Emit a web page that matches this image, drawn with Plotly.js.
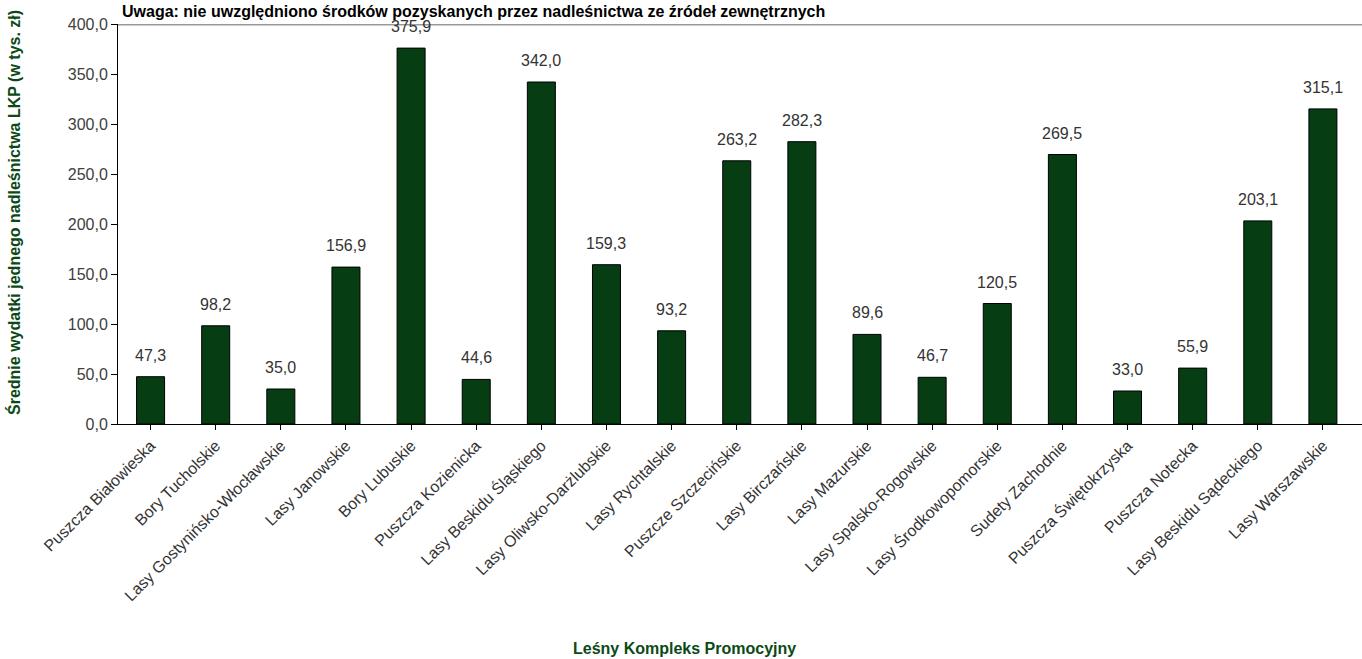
<!DOCTYPE html>
<html>
<head>
<meta charset="utf-8">
<script src="https://cdn.plot.ly/plotly-3.0.1.min.js"></script>
<style>html,body{margin:0;padding:0;background:#fff;}#chart{width:1362px;height:659px;}</style>
</head>
<body>
<div id="chart"></div>
<script>
const categories = [
  "Puszcza Białowieska", "Bory Tucholskie", "Lasy Gostynińsko-Włocławskie", "Lasy Janowskie",
  "Bory Lubuskie", "Puszcza Kozienicka", "Lasy Beskidu Śląskiego", "Lasy Oliwsko-Darżlubskie",
  "Lasy Rychtalskie", "Puszcze Szczecińskie", "Lasy Birczańskie", "Lasy Mazurskie",
  "Lasy Spalsko-Rogowskie", "Lasy Środkowopomorskie", "Sudety Zachodnie", "Puszcza Świętokrzyska",
  "Puszcza Notecka", "Lasy Beskidu Sądeckiego", "Lasy Warszawskie"
];
const values = [47.3, 98.2, 35.0, 156.9, 375.9, 44.6, 342.0, 159.3, 93.2, 263.2, 282.3, 89.6, 46.7, 120.5, 269.5, 33.0, 55.9, 203.1, 315.1];
const yTicks = [0, 50, 100, 150, 200, 250, 300, 350, 400];
const titleText = "Uwaga: nie uwzględniono środków pozyskanych przez nadleśnictwa ze źródeł zewnętrznych";
const yTitle = "Średnie wydatki jednego nadleśnictwa LKP (w tys. zł)";
const xTitle = "Leśny Kompleks Promocyjny";

const fmt = v => v.toFixed(1).replace('.', ',');
const green = '#0b4a17';
const FONT = 'Liberation Sans, Arial, sans-serif';

const trace = {
  type: 'bar',
  x: categories.map((c, i) => i),
  y: values,
  marker: {color: '#063d12', line: {color: '#000', width: 1}},
  hoverinfo: 'skip'
};

const annotations = values.map((v, i) => ({
  x: i, y: v, xref: 'x', yref: 'y', text: fmt(v), showarrow: false,
  yanchor: 'bottom', yshift: 11,
  font: {family: FONT, size: 16, color: '#333'}
}));
annotations.push({
  xref: 'paper', yref: 'paper', x: 0.0, y: 1.0575, xanchor: 'left', yanchor: 'top',
  xshift: 2, text: '<b>' + titleText + '</b>', showarrow: false,
  font: {family: FONT, size: 16, color: '#000'}
});
annotations.push({
  xref: 'paper', yref: 'paper', x: 0, y: 0.5, xanchor: 'center', yanchor: 'middle',
  xshift: -104, yshift: 11, textangle: -90, text: '<b>' + yTitle + '</b>', showarrow: false,
  font: {family: FONT, size: 16, color: green}
});
annotations.push({
  xref: 'paper', yref: 'paper', x: 0.455, y: 0, xanchor: 'center', yanchor: 'middle',
  yshift: -224, text: '<b>' + xTitle + '</b>', showarrow: false,
  font: {family: FONT, size: 16, color: green}
});

const layout = {
  width: 1362, height: 659,
  margin: {l: 118, r: 0, t: 24, b: 235},
  paper_bgcolor: '#fff', plot_bgcolor: '#fff',
  showlegend: false,
  bargap: 0.57,
  font: {family: FONT},
  xaxis: {
    range: [-0.5, 18.6],
    tickmode: 'array', tickvals: categories.map((c, i) => i), ticktext: categories,
    tickangle: -45, tickfont: {size: 16, color: '#333'},
    showline: true, linecolor: '#000', linewidth: 1,
    ticks: 'outside', tickson: 'boundaries', ticklen: 5, tickcolor: '#000',
    showgrid: false, zeroline: false, automargin: false
  },
  yaxis: {
    range: [0, 400],
    tickmode: 'array', tickvals: yTicks, ticktext: yTicks.map(fmt),
    tickfont: {size: 16, color: '#404040'},
    ticks: 'outside', ticklen: 6, tickcolor: '#000',
    showline: true, linecolor: '#000', linewidth: 1,
    showgrid: false, zeroline: false, automargin: false
  },
  shapes: [{
    type: 'line', xref: 'paper', yref: 'y', x0: 0, x1: 1, y0: 400, y1: 400,
    line: {color: '#999', width: 3}
  }],
  annotations: annotations
};

Plotly.newPlot('chart', [trace], layout, {displayModeBar: false, staticPlot: true});
</script>
</body>
</html>
